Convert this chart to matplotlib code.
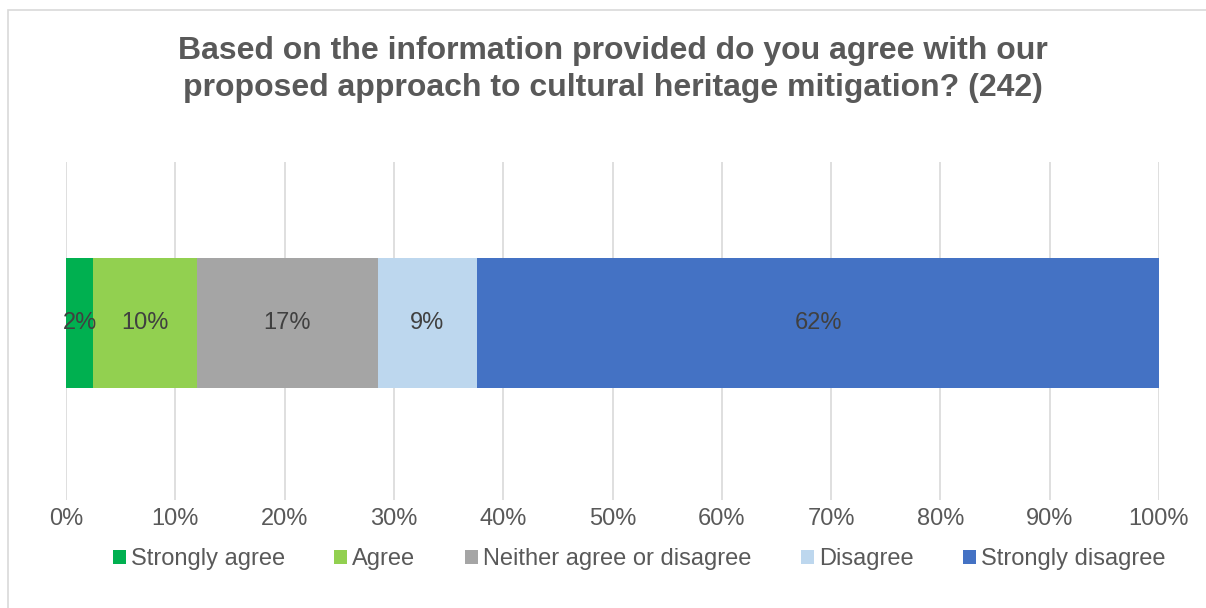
import matplotlib
matplotlib.use("Agg")
from matplotlib import pyplot as plt
from matplotlib.patches import Rectangle

# Survey responses (242 respondents)
categories = ["Strongly agree", "Agree", "Neither agree or disagree", "Disagree", "Strongly disagree"]
counts = [6, 23, 40, 22, 151]
colors = ["#00B050", "#92D050", "#A5A5A5", "#BDD7EE", "#4472C4"]
total = sum(counts)
shares = [c / total * 100 for c in counts]
xticks = list(range(0, 101, 10))
xticklabels = [f"{t}%" for t in xticks]
title_lines = ["Based on the information provided do you agree with our",
               "proposed approach to cultural heritage mitigation? (242)"]

plt.rcParams['font.family'] = ['Liberation Sans', 'DejaVu Sans']
text_col = "#595959"

fig = plt.figure(figsize=(12.06, 6.08), dpi=100, facecolor='white')
W, H = 1206, 608
ax = fig.add_axes([66 / W, 1 - 500 / H, (1159 - 66) / W, (500 - 162) / H])

# Outer chart border (right/bottom edges fall outside the picture)
fig.patches.append(Rectangle((7.5 / W, -20 / H), 1240 / W, (20 + 598.5) / H, transform=fig.transFigure,
                             fill=False, edgecolor="#D9D9D9", lw=1.2))

left = 0
for cat, val, col in zip(categories, shares, colors):
    ax.barh(0, val, left=left, height=0.385, color=col, label=cat, zorder=3)
    ax.text(left + val / 2, 0, f"{round(val)}%", ha='center', va='center',
            fontsize=17, color="#404040", zorder=4)
    left += val

ax.set_xlim(0, 100)
ax.set_ylim(-0.524, 0.476)
ax.set_xticks(xticks)
ax.set_xticklabels(xticklabels, fontsize=17, color=text_col)
ax.set_yticks([])
ax.tick_params(axis='x', length=0, pad=6)
ax.grid(axis='x', color="#D9D9D9", lw=1.2, zorder=0)
for s in ax.spines.values():
    s.set_visible(False)

for line, ypix in zip(title_lines, [59, 96]):
    fig.text(0.5 + 10 / W, 1 - ypix / H, line, ha='center', va='baseline',
             fontsize=23, fontweight='bold', color=text_col)

leg = fig.legend(loc='center', bbox_to_anchor=(639 / W, 1 - 559.5 / H), ncol=5, frameon=False,
                 fontsize=17, handlelength=0.55, handleheight=0.55, handletextpad=0.21,
                 columnspacing=2.1, labelcolor=text_col, borderpad=0, borderaxespad=0)

fig.savefig("out.png", dpi=100, facecolor='white')
